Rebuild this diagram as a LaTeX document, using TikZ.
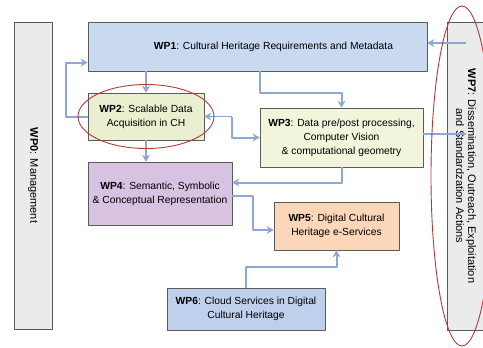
\documentclass[tikz,border=0pt]{standalone}
\usepackage{fontspec}
\setmainfont{Liberation Sans}
\usetikzlibrary{arrows.meta}
\definecolor{boxline}{HTML}{5A5A5A}
\definecolor{linkblue}{HTML}{8DA8D3}
\definecolor{ringred}{HTML}{B03A3A}
\definecolor{wpgray}{HTML}{EBEBEB}
\definecolor{wpblue}{HTML}{C9D9F0}
\definecolor{wpgreen}{HTML}{E9EFCF}
\definecolor{wpcream}{HTML}{F2F4DC}
\definecolor{wplilac}{HTML}{D8C2E2}
\definecolor{wppeach}{HTML}{FBD6B8}
\definecolor{wpsky}{HTML}{BED0EC}

\begin{document}
\begin{tikzpicture}[x=1pt, y=-1pt, line join=round, >={Stealth[length=7pt,width=8pt]},
	font=\fontsize{10.3}{14}\selectfont,
	wp/.style={draw=boxline, line width=0.6pt, align=center, inner sep=2pt},
	side/.style={wp, fill=wpgray, rotate=-90, font=\fontsize{11}{12}\selectfont},
	link/.style={draw=linkblue, line width=2pt, ->},
	ring/.style={draw=ringred, line width=0.9pt}]
	\useasboundingbox (0,0) rectangle (483,348);
	\clip (0,0) rectangle (483,348);
	\node[side, minimum width=307pt, minimum height=38pt] (wp0) at (33,175.5) {\textbf{WP0}: Management};
	\node[side, minimum width=308pt, minimum height=38pt] (wp7) at (466,176) {\textbf{WP7}: Dissemination, Outreach, Exploitation\\and Standardzation Actions};
	\node[wp, fill=wpblue, minimum width=339pt, minimum height=49pt] (wp1) at (257.5,46.5) {\hspace*{32pt}\textbf{WP1}: Cultural Heritage Requirements and Metadata};
	\node[wp, fill=wpgreen, minimum width=116pt, minimum height=47pt] (wp2) at (146,116.5) {\textbf{WP2}: Scalable Data\\Acquisition in CH};
	\node[wp, fill=wpcream, minimum width=163pt, minimum height=59pt] (wp3) at (341.5,137.5) {\textbf{WP3}: Data pre/post processing,\\Computer Vision\\\& computational geometry};
	\node[wp, fill=wplilac, minimum width=144pt, minimum height=63pt] (wp4) at (160,193.5) {\textbf{WP4}: Semantic, Symbolic\\\& Conceptual Representation};
	\node[wp, fill=wppeach, minimum width=125pt, minimum height=48pt] (wp5) at (336.5,226) {\textbf{WP5}: Digital Cultural\\Heritage e-Services};
	\node[wp, fill=wpsky, minimum width=158pt, minimum height=42pt] (wp6) at (246,309) {\textbf{WP6}: Cloud Services in Digital\\Cultural Heritage};

	\draw[link] (wp2.west) -- ++(-22,0) |- ([yshift=-16pt]wp1.west);
	\draw[link] (wp1.south -| wp2.north) -- (wp2.north);
	\draw[link] (wp2.south) -- (wp4.north -| wp2.south);
	\draw[link] (wp1.south -| wp3.west) -- ++(0,22) -| (wp3.north);
	\path (wp2.east) ++(28,0) coordinate (turn);
	\draw[link, <-, line width=0.7pt] (wp2.east) -- (turn);
	\draw[link] (turn) |- (wp3.west);
	\draw[link] (wp3.south) |- ([yshift=11pt]wp4.east);
	\draw[link] ([yshift=-2.5pt]wp4.east) -- ++(21,0) |- ([yshift=-4pt]wp5.west);
	\draw[link] (wp6.north) -- ++(0,-21) -| (wp5.south);
	\draw[link] ([yshift=3.5pt]wp1.east -| wp7.west) -- ([yshift=3.5pt]wp1.east);
	\draw[link, -] ([yshift=4pt]wp3.east -| wp7.west) -- ([yshift=4pt]wp3.east);

	\draw[ring] (wp2.center) ellipse [x radius=68pt, y radius=32pt];
	\draw[ring] ([xshift=-4pt]wp7.center) ellipse [x radius=31pt, y radius=170pt];
\end{tikzpicture}
\end{document}
